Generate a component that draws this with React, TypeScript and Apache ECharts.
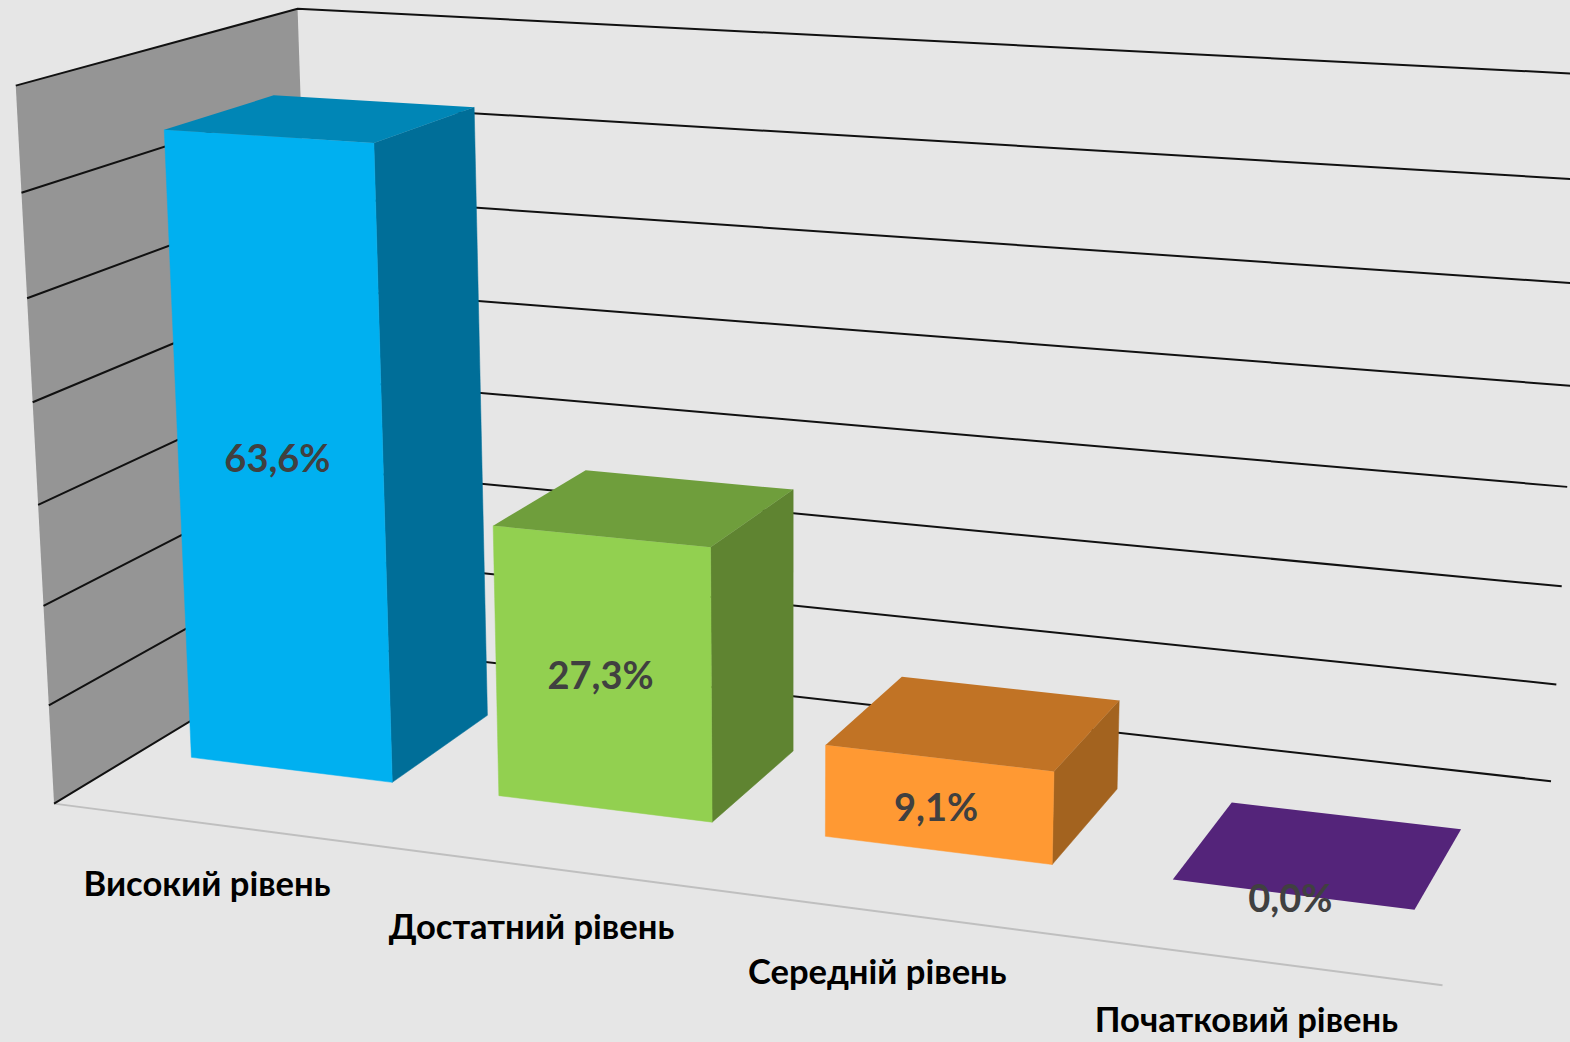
import React, { useEffect, useRef } from "react";
import * as echarts from "echarts";

const categories = ["Високий рівень", "Достатний рівень", "Середній рівень", "Початковий рівень"];
const values = [63.6, 27.3, 9.1, 0.0];
const gridTicks = [0, 10, 20, 30, 40, 50, 60, 70];
const frontColors = ["#00B0F0", "#92D050", "#FF9933", "#54247A"];
const topColors = ["#0086B6", "#6F9E3C", "#C17325", "#54247A"];
const sideColors = ["#006E98", "#5F8431", "#A3631F", "#54247A"];

const GRID_W = 1000, GRID_H = 700;
const BAR_FRACTION = 0.66, Z0 = 0.3, Z1 = 0.7, LABEL_DROP = 59;

// Camera calibration only: how the scene's 3D box (X along the categories,
// Y up the value axis, Z into the page) sits on the page: X, Y, Z, pageX, pageY.
const a0 = 0.125 - 0.0825, a1 = 0.125 + 0.0825, b0 = 0.375 - 0.0825, b1 = 0.375 + 0.0825;
const c0 = 0.625 - 0.0825, c1 = 0.625 + 0.0825, d0 = 0.875 - 0.0825, d1 = 0.875 + 0.0825;
const ha = 63.6 / 70, hb = 27.3 / 70, hc = 9.1 / 70;
const calibration = [
  [0, 0, 0, 55, 803], [0, 1, 0, 16, 85], [0, 1, 1, 297, 8], [1, 0, 1, 1553, 781], [1, 0, 0, 1444, 986],
  [0, 6 / 7, 0, 21, 193], [0, 5 / 7, 0, 27, 298], [0, 4 / 7, 0, 33, 403], [0, 3 / 7, 0, 38, 505], [0, 2 / 7, 0, 43, 606], [0, 1 / 7, 0, 49, 706],
  [1, 1 / 7, 1, 1556, 685], [1, 2 / 7, 1, 1561, 586], [1, 3 / 7, 1, 1566, 487],
  [a0, ha, Z0, 164, 130], [a1, ha, Z0, 375.5, 143], [a0, ha, Z1, 273, 96], [a1, ha, Z1, 475, 107],
  [a0, 0, Z0, 190, 757], [a1, 0, Z0, 393.5, 782], [a1, 0, Z1, 489, 715],
  [b0, hb, Z0, 492, 526], [b1, hb, Z0, 712, 547], [b0, hb, Z1, 585, 470], [b1, hb, Z1, 795, 490],
  [b0, 0, Z0, 497, 796], [b1, 0, Z0, 714, 822], [b1, 0, Z1, 795, 752],
  [c0, hc, Z0, 823, 745], [c1, hc, Z0, 1055, 771], [c0, hc, Z1, 900, 677], [c1, hc, Z1, 1120, 701],
  [c0, 0, Z0, 823, 836], [c1, 0, Z0, 1053, 864], [c1, 0, Z1, 1118, 790],
  [d0, 0, Z0, 1170, 879], [d1, 0, Z0, 1415, 909], [d1, 0, Z1, 1462, 829], [d0, 0, Z1, 1229, 802],
];

function solve(A: number[][], b: number[]) {
  const n = b.length;
  const M = A.map((r, i) => [...r, b[i]]);
  for (let c = 0; c < n; c++) {
    let p = c;
    for (let r = c + 1; r < n; r++) if (Math.abs(M[r][c]) > Math.abs(M[p][c])) p = r;
    [M[c], M[p]] = [M[p], M[c]];
    for (let r = 0; r < n; r++) {
      if (r === c) continue;
      const f = M[r][c] / M[c][c];
      for (let k = c; k <= n; k++) M[r][k] -= f * M[c][k];
    }
  }
  return M.map((r, i) => r[n] / r[i]);
}

function fitCamera() {
  const rows: number[][] = [];
  const rhs: number[] = [];
  for (const [X, Y, Z, u, v] of calibration) {
    rows.push([X, Y, Z, 1, 0, 0, 0, 0, -u * X, -u * Y, -u * Z]); rhs.push(u);
    rows.push([0, 0, 0, 0, X, Y, Z, 1, -v * X, -v * Y, -v * Z]); rhs.push(v);
  }
  const n = 11;
  const N = Array.from({ length: n }, (_, i) => Array.from({ length: n }, (_, j) => rows.reduce((s, r) => s + r[i] * r[j], 0)));
  const t = Array.from({ length: n }, (_, i) => rows.reduce((s, r, k) => s + r[i] * rhs[k], 0));
  return solve(N, t);
}
const cam = fitCamera();
const project = (X: number, Y: number, Z: number) => {
  const w = cam[8] * X + cam[9] * Y + cam[10] * Z + 1;
  return [(cam[0] * X + cam[1] * Y + cam[2] * Z + cam[3]) / w, (cam[4] * X + cam[5] * Y + cam[6] * Z + cam[7]) / w];
};

const fontFamily = "Lato, 'Noto Sans', sans-serif";

export default function App() {
  const ref = useRef<HTMLDivElement>(null);
  useEffect(() => {
    document.body.style.margin = "0";
    const chart = echarts.init(ref.current!, null, { renderer: "svg" });
    const heightOf = (api: any, v: number) => (GRID_H - api.coord([0, v])[1]) / GRID_H;
    chart.setOption({
      animation: false,
      backgroundColor: "#E6E6E6",
      grid: { left: 0, top: 0, width: GRID_W, height: GRID_H, show: false },
      xAxis: { type: "category", data: categories, show: false },
      yAxis: { type: "value", min: 0, max: 70, interval: 10, show: false },
      series: [
        {
          type: "custom", coordinateSystem: "cartesian2d", silent: true, z: 1,
          data: [[0, 70]],
          renderItem: () => ({
            type: "group",
            children: [
              { type: "polygon", shape: { points: [project(0,0,0), project(0,1,0), project(0,1,1), project(0,0,1)] }, style: { fill: "#959595" } },
              { type: "line", shape: { x1: project(0,0,0)[0], y1: project(0,0,0)[1], x2: project(1,0,0)[0], y2: project(1,0,0)[1] }, style: { stroke: "#BFBFBF", lineWidth: 2 } },
            ],
          }),
        },
        {
          type: "custom", coordinateSystem: "cartesian2d", silent: true, z: 2,
          data: gridTicks.map((t) => [0, t]),
          renderItem: (_: any, api: any) => {
            const y = heightOf(api, api.value(1));
            return { type: "polyline", shape: { points: [project(0, y, 0), project(0, y, 1), project(1, y, 1)] }, style: { stroke: "#111", lineWidth: 2, fill: "none" } };
          },
        },
        {
          type: "custom", coordinateSystem: "cartesian2d", silent: true, z: 3,
          data: values.map((v, i) => [i, v]),
          renderItem: (params: any, api: any) => {
            const i = params.dataIndex;
            const v = api.value(1);
            const c = api.coord([i, v]);
            const mid = c[0] / GRID_W;
            const half = (BAR_FRACTION * api.size([1, 0])[0]) / GRID_W / 2;
            const h = heightOf(api, v);
            const x0 = mid - half, x1 = mid + half;
            const children: any[] = [];
            if (h > 0) {
              children.push({ type: "polygon", shape: { points: [project(x1,0,Z0), project(x1,0,Z1), project(x1,h,Z1), project(x1,h,Z0)] }, style: { fill: sideColors[i], stroke: sideColors[i], lineWidth: 0.5 } });
              children.push({ type: "polygon", shape: { points: [project(x0,0,Z0), project(x1,0,Z0), project(x1,h,Z0), project(x0,h,Z0)] }, style: { fill: frontColors[i], stroke: frontColors[i], lineWidth: 0.5 } });
            }
            children.push({ type: "polygon", shape: { points: [project(x0,h,Z0), project(x1,h,Z0), project(x1,h,Z1), project(x0,h,Z1)] }, style: { fill: topColors[i] } });
            const lp = project(mid, h * 0.51, Z0);
            children.push({ type: "text", style: { text: v.toFixed(1).replace(".", ",") + "%", x: lp[0] - 2, y: lp[1] + 3, align: "center", verticalAlign: "middle", fontSize: 38, fontWeight: "bold", fontFamily, fill: "#404040" } });
            const cp = project(mid, 0, 0);
            children.push({ type: "text", style: { text: categories[i], x: cp[0] - 2, y: cp[1] + LABEL_DROP, align: "center", verticalAlign: "middle", fontSize: 34.6, fontWeight: "bold", fontFamily, fill: "#000" } });
            return { type: "group", children };
          },
        },
      ],
    });
    return () => chart.dispose();
  }, []);
  return <div ref={ref} style={{ width: 1570, height: 1042 }} />;
}
